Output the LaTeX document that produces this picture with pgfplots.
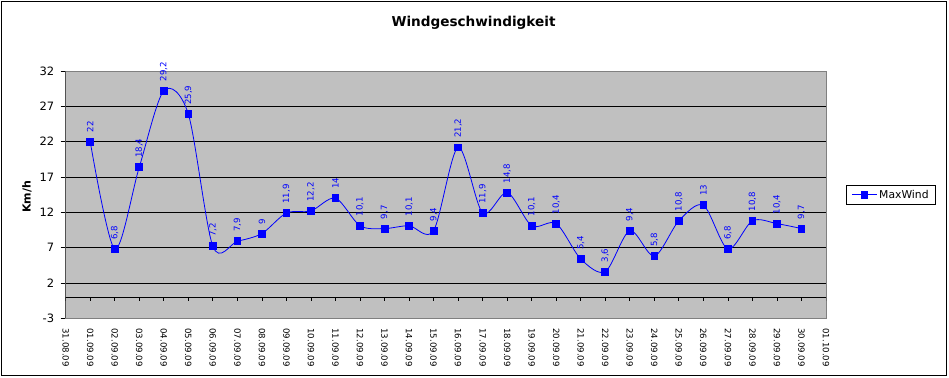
\documentclass[border=0pt]{standalone}
\usepackage{fontspec}
\setmainfont{DejaVu Sans}
\usepackage{pgfplots}
\pgfplotsset{compat=1.18}
\definecolor{plotbg}{RGB}{192,192,192}
\definecolor{frameg}{RGB}{128,128,128}
\definecolor{xlblue}{RGB}{0,0,255}
\begin{document}
\begin{tikzpicture}
\useasboundingbox (0,0) rectangle (949bp,378bp);
\draw[line width=1bp] (1.5bp,2.3bp) rectangle (946bp,376.5bp);
\node[font=\fontsize{13.6bp}{16bp}\selectfont\bfseries] at (473.5bp,355bp) {Windgeschwindigkeit};
\node[rotate=90,font=\fontsize{11bp}{13bp}\selectfont\bfseries] at (27bp,181bp) {Km/h};
\begin{axis}[
  at={(65.7bp,307bp)}, anchor=north west,
  scale only axis, width=760.3bp, height=247.3bp,
  xmin=0, xmax=31, ymin=-3, ymax=32,
  xtick={0,...,31},
  xticklabels={31.08.09,01.09.09,02.09.09,03.09.09,04.09.09,05.09.09,06.09.09,07.09.09,08.09.09,09.09.09,10.09.09,11.09.09,12.09.09,13.09.09,14.09.09,15.09.09,16.09.09,17.09.09,18.09.09,19.09.09,20.09.09,21.09.09,22.09.09,23.09.09,24.09.09,25.09.09,26.09.09,27.09.09,28.09.09,29.09.09,30.09.09,01.10.09},
  ytick={-3,2,...,32},
  /pgf/number format/assume math mode=true,
  axis background/.style={fill=plotbg},
  axis line style={frameg, line width=0.8bp},
  tick align=outside,
  major tick length=5bp,
  ytick pos=left,
  xtick pos=bottom,
  xtick style={draw=none},
  ytick style={black, line width=0.8bp},
  yticklabel style={font=\fontsize{11.5bp}{13bp}\selectfont, xshift=-3bp},
  xticklabel style={rotate=-90, anchor=west, inner sep=0pt, inner xsep=5bp, font=\fontsize{8.6bp}{10bp}\selectfont},
  legend style={at={(1.0263,0.5)}, anchor=west, draw=black, line width=0.8bp, fill=white,
    font=\fontsize{10.8bp}{12bp}\selectfont, inner xsep=5bp, inner ysep=2.5bp},
  legend image code/.code={\draw[mark repeat=2,mark phase=2] plot coordinates {(0bp,0bp) (12.5bp,0bp) (25bp,0bp)};},
]
\pgfplotsinvokeforeach{2,7,12,17,22,27}{\draw[black, line width=0.8bp] (axis cs:0,#1) -- (axis cs:31,#1);}
\draw[black, line width=0.8bp] (axis cs:0,0) -- (axis cs:31,0);
\pgfplotsinvokeforeach{0,...,31}{\draw[black, line width=0.8bp] (axis cs:#1,0) -- ([yshift=-4bp]axis cs:#1,0);}
\draw[black, line width=0.8bp] (rel axis cs:0,0) -- (rel axis cs:0,1);
\addplot[color=xlblue, line width=0.8bp, smooth, tension=0.5,
  mark=square*, mark size=3.4bp, mark options={solid, fill=xlblue},
  nodes near coords,
  every node near coord/.append style={rotate=90, anchor=west, inner sep=0pt, inner xsep=9bp,
    font=\fontsize{8.6bp}{10bp}\selectfont, text=xlblue},
  /pgf/number format/use comma]
coordinates {
(1,22) (2,6.8) (3,18.4) (4,29.2) (5,25.9) (6,7.2) (7,7.9) (8,9) (9,11.9) (10,12.2)
(11,14) (12,10.1) (13,9.7) (14,10.1) (15,9.4) (16,21.2) (17,11.9) (18,14.8) (19,10.1) (20,10.4)
(21,5.4) (22,3.6) (23,9.4) (24,5.8) (25,10.8) (26,13) (27,6.8) (28,10.8) (29,10.4) (30,9.7)
};
\addlegendentry{MaxWind}
\end{axis}
\end{tikzpicture}
\end{document}
